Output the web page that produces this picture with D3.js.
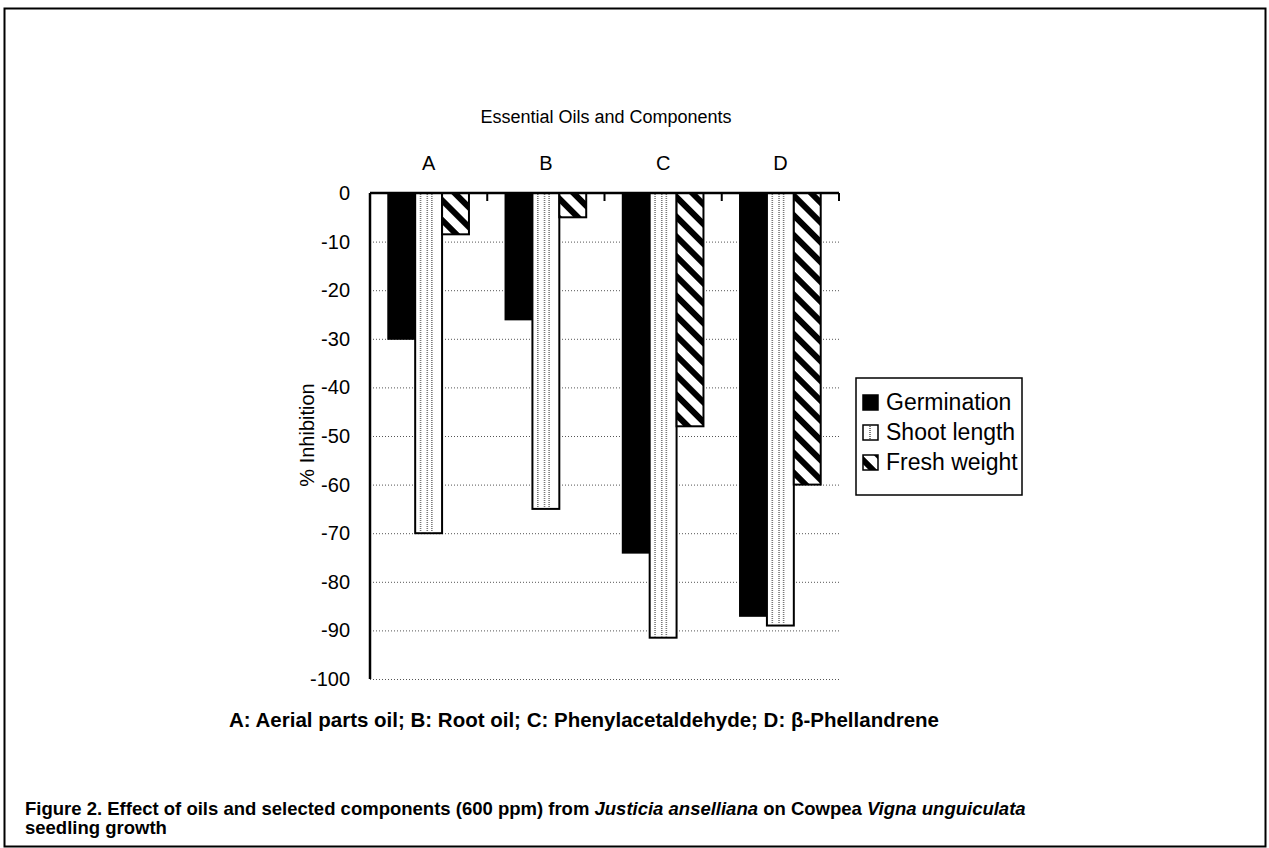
<!DOCTYPE html>
<html>
<head>
<meta charset="utf-8">
<script src="https://cdn.jsdelivr.net/npm/d3@7"></script>
<style>
  body { margin: 0; background: #fff; }
  svg { font-family: "Liberation Sans", Arial, Helvetica, sans-serif; }
</style>
</head>
<body>
<svg id="grafico" width="1269" height="848"></svg>
<script>
const categorias = ["A", "B", "C", "D"];
const series = ["Germination", "Shoot length", "Fresh weight"];
const germination = [-30, -26, -74, -87];
const shootLength = [-70, -65, -91.5, -89];
const freshWeight = [-8.5, -5, -48, -60];
const yTicks = [0, -10, -20, -30, -40, -50, -60, -70, -80, -90, -100];

const valores = [germination, shootLength, freshWeight];

const svg = d3.select("#grafico");

// patterns
const defs = svg.append("defs");
const hatch = defs.append("pattern")
  .attr("id", "hatch")
  .attr("patternUnits", "userSpaceOnUse")
  .attr("width", 14).attr("height", 14)
  .attr("patternTransform", "rotate(-45)");
hatch.append("rect").attr("width", 14).attr("height", 14).attr("fill", "#fff");
hatch.append("rect").attr("x", 0).attr("width", 6).attr("height", 14).attr("fill", "#000");

// outer frame
svg.append("rect")
  .attr("x", 4.5).attr("y", 8.5)
  .attr("width", 1261).attr("height", 838)
  .attr("fill", "none")
  .attr("stroke", "#000")
  .attr("stroke-width", 2);

const mLeft = 370, mRight = 839, mTop = 193, mBottom = 679;

const x = d3.scaleBand().domain(categorias).range([mLeft, mRight]).paddingInner(0).paddingOuter(0);
const xs = d3.scaleBand().domain(series).range([0, x.bandwidth()]).paddingInner(0).paddingOuter(0.68);
const y = d3.scaleLinear().domain([0, -100]).range([mTop, mBottom]);

// gridlines
svg.append("g")
  .selectAll("line")
  .data(yTicks.filter(d => d !== 0))
  .join("line")
  .attr("x1", mLeft).attr("x2", mRight)
  .attr("y1", d => y(d) + 0.5).attr("y2", d => y(d) + 0.5)
  .attr("stroke", "#555")
  .attr("stroke-width", 1)
  .attr("stroke-dasharray", "1,2");

// bars
const g = svg.append("g");
categorias.forEach((c, i) => {
  series.forEach((s, j) => {
    const v = valores[j][i];
    const bx = x(c) + xs(s);
    const bw = xs.bandwidth();
    const by = y(0);
    const bh = y(v) - y(0);
    let fill = "#000";
    if (j === 1) fill = "#fff";
    if (j === 2) fill = "url(#hatch)";
    g.append("rect")
      .attr("x", bx).attr("y", by)
      .attr("width", bw).attr("height", bh)
      .attr("fill", fill)
      .attr("stroke", "#000")
      .attr("stroke-width", 2);
    if (j === 1) {
      [0.2, 0.45, 0.62].forEach(f => {
        g.append("line")
          .attr("x1", bx + bw * f).attr("x2", bx + bw * f)
          .attr("y1", by + 1).attr("y2", by + bh - 1)
          .attr("stroke", "#777")
          .attr("stroke-width", 1.6)
          .attr("stroke-dasharray", "1,1");
      });
    }
  });
});

// axis lines
svg.append("line")
  .attr("x1", mLeft).attr("x2", mLeft)
  .attr("y1", mTop).attr("y2", mBottom)
  .attr("stroke", "#000").attr("stroke-width", 2.5);

const xAxis = svg.append("g").attr("transform", `translate(0,${mTop})`)
  .call(d3.axisBottom(x).tickSize(0).tickFormat(""));
xAxis.select(".domain").attr("stroke", "#000").attr("stroke-width", 2.5).attr("d", `M${mLeft},0H${mRight}`);
svg.append("g")
  .selectAll("line")
  .data(categorias.map(c => x(c) + x.bandwidth()))
  .join("line")
  .attr("x1", d => d).attr("x2", d => d)
  .attr("y1", mTop).attr("y2", mTop + 8)
  .attr("stroke", "#000").attr("stroke-width", 2);

// y tick labels
svg.append("g")
  .selectAll("text")
  .data(yTicks)
  .join("text")
  .attr("x", 350)
  .attr("y", d => y(d))
  .attr("dy", "0.35em")
  .attr("text-anchor", "end")
  .style("font-size", "20px")
  .text(d => d);

// category labels
svg.append("g")
  .selectAll("text")
  .data(categorias)
  .join("text")
  .attr("x", d => x(d) + x.bandwidth() / 2)
  .attr("y", 163)
  .attr("dy", "0.35em")
  .attr("text-anchor", "middle")
  .style("font-size", "20px")
  .text(d => d);

// title
svg.append("text")
  .attr("x", 606).attr("y", 117)
  .attr("dy", "0.35em")
  .attr("text-anchor", "middle")
  .style("font-size", "18px")
  .text("Essential Oils and Components");

// y axis title
svg.append("text")
  .attr("transform", "translate(307,435) rotate(-90)")
  .attr("dy", "0.35em")
  .attr("text-anchor", "middle")
  .style("font-size", "20px")
  .text("% Inhibition");

// legend
const legend = svg.append("g").attr("transform", "translate(856,378)");
legend.append("rect")
  .attr("width", 166).attr("height", 117)
  .attr("fill", "#fff")
  .attr("stroke", "#000").attr("stroke-width", 1.5);
series.forEach((s, j) => {
  const ly = 24 + j * 30;
  let fill = "#000";
  if (j === 1) fill = "#fff";
  if (j === 2) fill = "url(#hatch)";
  legend.append("rect")
    .attr("x", 7).attr("y", ly - 7)
    .attr("width", 15).attr("height", 15)
    .attr("fill", fill)
    .attr("stroke", "#000").attr("stroke-width", 1.5);
  if (j === 1) {
    legend.append("line")
      .attr("x1", 14).attr("x2", 14)
      .attr("y1", ly - 6).attr("y2", ly + 7)
      .attr("stroke", "#555").attr("stroke-width", 1.5)
      .attr("stroke-dasharray", "1,1");
  }
  legend.append("text")
    .attr("x", 30).attr("y", ly)
    .attr("dy", "0.35em")
    .style("font-size", "23px")
    .text(s);
});

// footnote
svg.append("text")
  .attr("x", 229).attr("y", 720)
  .attr("dy", "0.35em")
  .style("font-size", "20.5px")
  .style("font-weight", "bold")
  .text("A: Aerial parts oil; B: Root oil; C: Phenylacetaldehyde; D: \u03B2-Phellandrene");

// caption
const cap = svg.append("text")
  .attr("x", 25).attr("y", 815)
  .style("font-size", "18.5px")
  .style("font-weight", "bold");
cap.append("tspan").text("Figure 2. Effect of oils and selected components (600 ppm) from ");
cap.append("tspan").style("font-style", "italic").text("Justicia anselliana");
cap.append("tspan").text(" on Cowpea ");
cap.append("tspan").style("font-style", "italic").text("Vigna unguiculata");
svg.append("text")
  .attr("x", 25).attr("y", 834)
  .style("font-size", "18.5px")
  .style("font-weight", "bold")
  .text("seedling growth");
</script>
</body>
</html>
